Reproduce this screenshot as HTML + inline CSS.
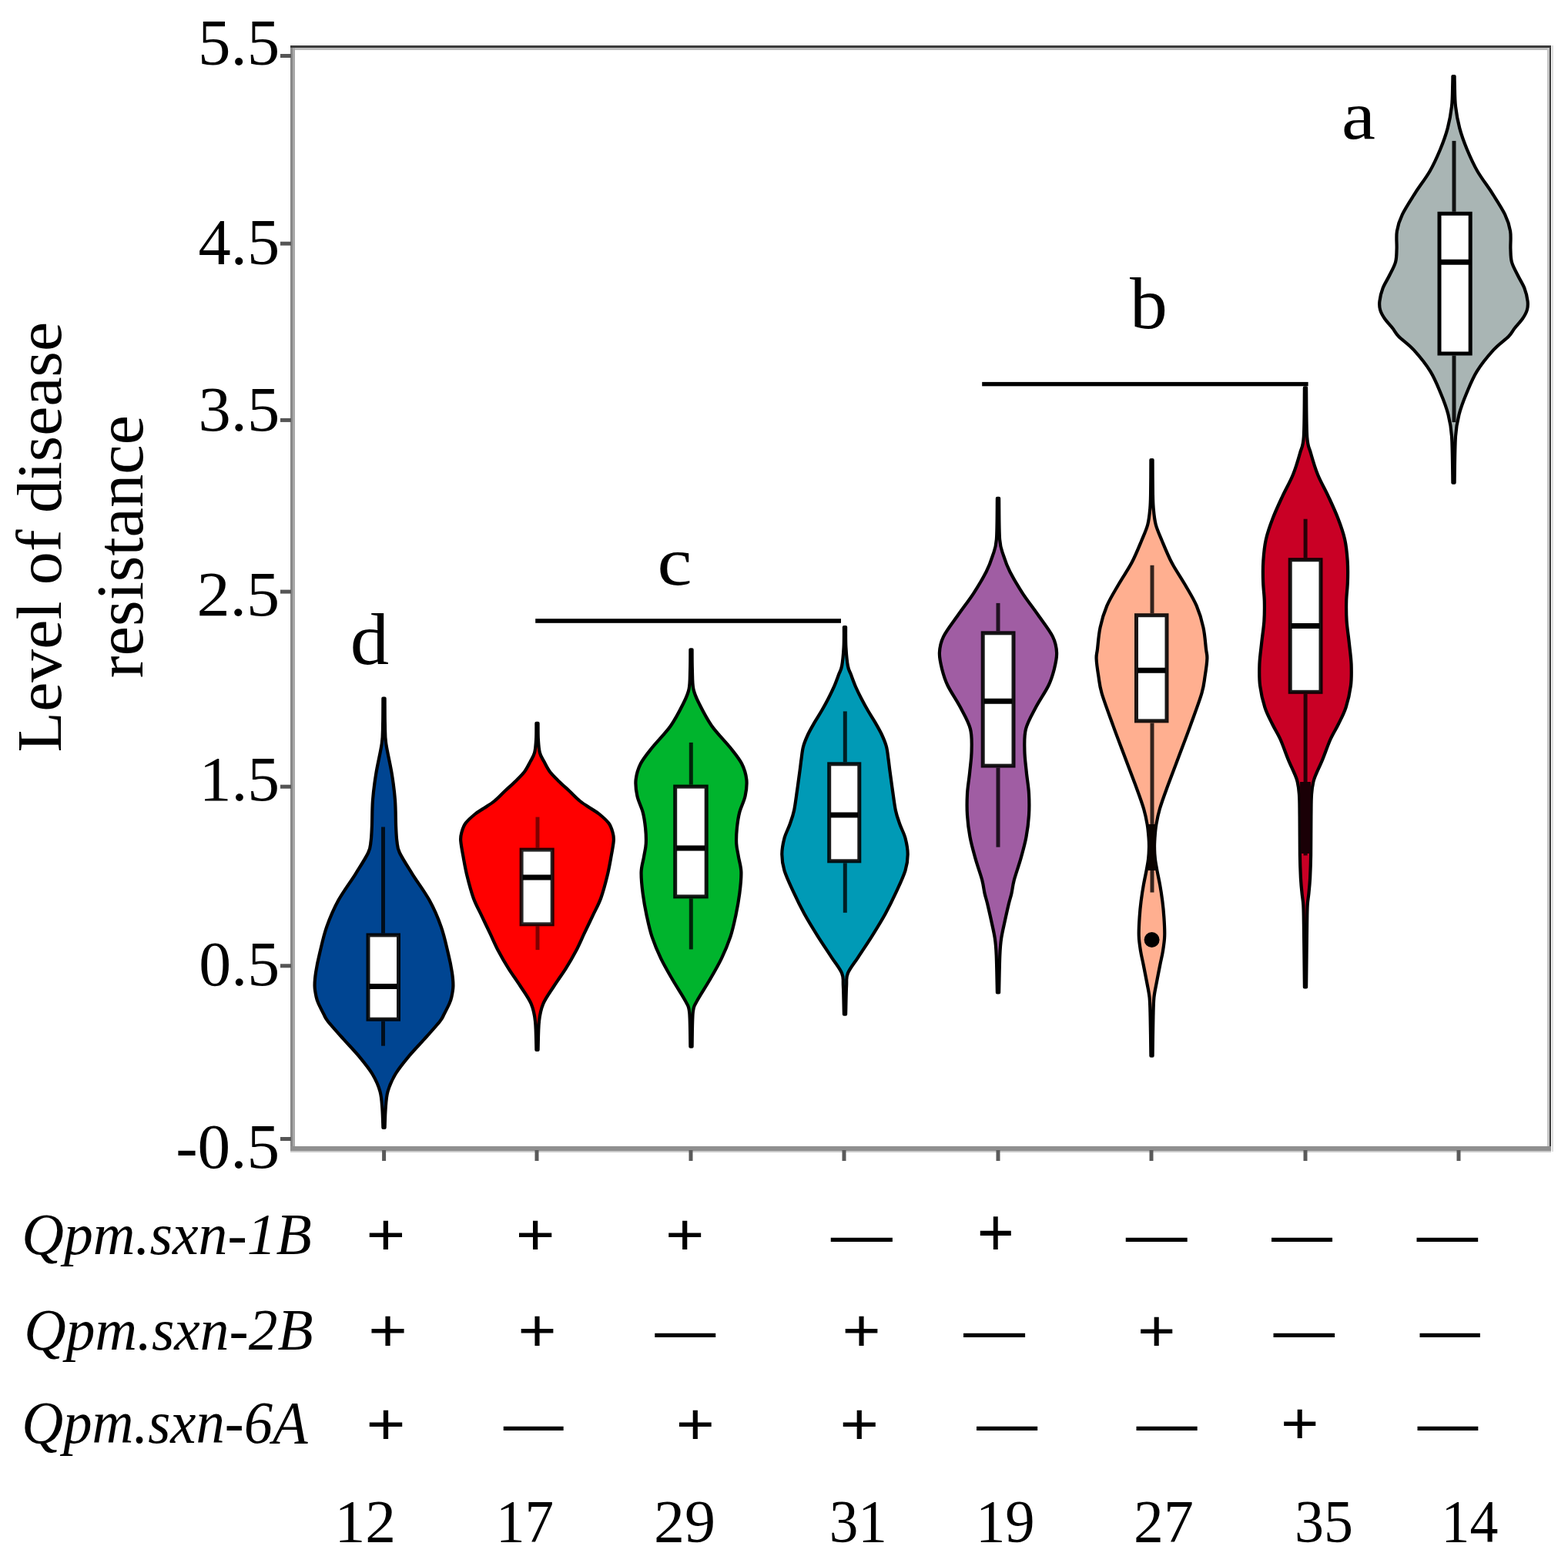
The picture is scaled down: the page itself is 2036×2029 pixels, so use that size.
<!DOCTYPE html>
<html><head><meta charset="utf-8"><title>Level of disease resistance</title>
<style>html,body{margin:0;padding:0;background:#fff;}svg{display:block;}</style>
</head><body>
<svg width="2036" height="2029" viewBox="0 0 2036 2029">
<rect width="2036" height="2029" fill="#fff"/>
<g shape-rendering="crispEdges">
<rect x="377" y="59" width="3" height="1436" fill="#888"/>
<rect x="380" y="62" width="3" height="1427" fill="#a8a8a8"/>
<rect x="377" y="59" width="1637" height="3" fill="#3c3c3c"/>
<rect x="383" y="62" width="1626" height="2.5" fill="#bbb"/>
<rect x="2012" y="59" width="2.2" height="1436" fill="#3c3c3c"/>
<rect x="2009" y="62" width="3" height="1426" fill="#c5c5c5"/>
<rect x="2014.5" y="59" width="2" height="1436" fill="#ddd"/>
<rect x="377" y="1488" width="1637" height="6" fill="#8f8f8f"/>
<rect x="377" y="1494" width="1637" height="2" fill="#ccc"/>
</g>
<rect x="364" y="70.0" width="14" height="5" fill="#555"/>
<rect x="364" y="313.7" width="14" height="5" fill="#555"/>
<rect x="364" y="542.9" width="14" height="5" fill="#555"/>
<rect x="364" y="765.6" width="14" height="5" fill="#555"/>
<rect x="364" y="1018.7" width="14" height="5" fill="#555"/>
<rect x="364" y="1251.3" width="14" height="5" fill="#555"/>
<rect x="364" y="1476.0" width="14" height="5" fill="#555"/>
<rect x="496.1" y="1493" width="5" height="14" fill="#5a5a5a"/>
<rect x="694.5" y="1493" width="5" height="14" fill="#5a5a5a"/>
<rect x="894.5" y="1493" width="5" height="14" fill="#5a5a5a"/>
<rect x="1093.5" y="1493" width="5" height="14" fill="#5a5a5a"/>
<rect x="1293.5" y="1493" width="5" height="14" fill="#5a5a5a"/>
<rect x="1492.5" y="1493" width="5" height="14" fill="#5a5a5a"/>
<rect x="1692.5" y="1493" width="5" height="14" fill="#5a5a5a"/>
<rect x="1891.5" y="1493" width="5" height="14" fill="#5a5a5a"/>
<path d="M499.6,906.6 C499.7,912.2 499.6,930.3 499.9,940.0 C500.2,949.7 499.7,954.3 501.2,965.0 C502.7,975.7 506.7,991.7 508.7,1004.0 C510.7,1016.3 512.1,1027.1 513.0,1038.6 C513.9,1050.1 513.7,1064.0 514.1,1072.9 C514.5,1081.8 514.6,1086.3 515.4,1092.0 C516.2,1097.7 515.6,1100.0 518.9,1107.0 C522.2,1114.0 528.8,1124.0 535.2,1134.3 C541.6,1144.6 551.2,1157.2 557.5,1168.6 C563.8,1180.0 568.7,1191.5 572.7,1202.9 C576.8,1214.3 579.4,1227.2 581.8,1237.0 C584.2,1246.8 585.8,1254.8 586.9,1262.0 C588.0,1269.2 588.5,1274.7 588.4,1280.0 C588.3,1285.3 587.2,1290.2 586.4,1294.0 C585.6,1297.8 585.1,1299.2 583.4,1303.0 C581.7,1306.8 578.4,1313.2 576.4,1317.0 C574.4,1320.8 575.5,1320.4 571.3,1325.7 C567.1,1331.0 558.1,1341.0 551.3,1348.6 C544.5,1356.2 537.0,1363.8 530.7,1371.4 C524.4,1379.0 518.0,1386.7 513.5,1394.3 C509.0,1401.9 505.6,1409.4 503.5,1417.0 C501.4,1424.6 501.2,1432.2 500.6,1440.0 C500.0,1447.8 499.8,1460.0 499.6,1464.0 L497.4,1464.0 C497.2,1460.0 497.0,1447.8 496.4,1440.0 C495.8,1432.2 495.6,1424.6 493.5,1417.0 C491.4,1409.4 488.0,1401.9 483.5,1394.3 C479.0,1386.7 472.6,1379.0 466.3,1371.4 C460.0,1363.8 452.5,1356.2 445.7,1348.6 C438.9,1341.0 429.9,1331.0 425.7,1325.7 C421.5,1320.4 422.6,1320.8 420.6,1317.0 C418.6,1313.2 415.3,1306.8 413.6,1303.0 C411.9,1299.2 411.4,1297.8 410.6,1294.0 C409.8,1290.2 408.7,1285.3 408.6,1280.0 C408.5,1274.7 409.0,1269.2 410.1,1262.0 C411.2,1254.8 412.8,1246.8 415.2,1237.0 C417.6,1227.2 420.2,1214.3 424.3,1202.9 C428.4,1191.5 433.2,1180.0 439.5,1168.6 C445.8,1157.2 455.4,1144.6 461.8,1134.3 C468.2,1124.0 474.8,1114.0 478.1,1107.0 C481.4,1100.0 480.8,1097.7 481.6,1092.0 C482.4,1086.3 482.5,1081.8 482.9,1072.9 C483.3,1064.0 483.1,1050.1 484.0,1038.6 C484.9,1027.1 486.3,1016.3 488.3,1004.0 C490.3,991.7 494.3,975.7 495.8,965.0 C497.3,954.3 496.8,949.7 497.1,940.0 C497.4,930.3 497.3,912.2 497.4,906.6 Z" fill="#004592" stroke="#000" stroke-width="4.2" stroke-linejoin="round"/>
<g stroke="#000" stroke-opacity="0.8" fill="none">
<line x1="497.5" y1="1073.4" x2="497.5" y2="1211.4" stroke-width="5"/>
<line x1="497.5" y1="1325.7" x2="497.5" y2="1357.7" stroke-width="5"/>
</g>
<rect x="478.00" y="1213.90" width="39.50" height="109.30" fill="#fff"/>
<rect x="478.00" y="1213.90" width="39.50" height="109.30" fill="none" stroke="#000" stroke-opacity="0.9" stroke-width="5.0"/>
<line x1="479.5" y1="1280.6" x2="516.0" y2="1280.6" stroke="#000" stroke-width="7"/>
<path d="M698.6,938.9 C698.6,942.4 698.5,953.6 698.9,960.0 C699.3,966.4 699.6,972.3 700.9,977.1 C702.1,981.9 704.2,984.5 706.4,988.6 C708.6,992.8 710.8,997.6 714.1,1002.0 C717.5,1006.4 722.3,1010.8 726.5,1015.0 C730.7,1019.2 735.0,1022.8 739.5,1027.0 C744.0,1031.2 748.7,1036.3 753.2,1040.0 C757.7,1043.7 762.2,1046.2 766.4,1049.0 C770.6,1051.8 774.4,1053.7 778.4,1057.0 C782.4,1060.3 787.6,1064.8 790.4,1068.6 C793.2,1072.4 794.3,1076.2 795.4,1080.0 C796.5,1083.8 797.2,1085.7 796.8,1091.4 C796.4,1097.1 794.5,1106.7 793.1,1114.3 C791.7,1121.9 790.6,1128.5 788.5,1137.1 C786.4,1145.7 783.4,1157.1 780.3,1165.7 C777.2,1174.3 773.3,1181.0 769.7,1188.6 C766.1,1196.2 762.4,1203.8 758.8,1211.4 C755.2,1219.0 752.0,1226.7 748.0,1234.3 C744.0,1241.9 739.6,1249.5 734.8,1257.1 C730.0,1264.7 724.3,1272.4 719.4,1280.0 C714.5,1287.6 708.6,1295.3 705.4,1302.9 C702.2,1310.5 701.1,1315.7 700.0,1325.7 C698.9,1335.7 698.8,1356.8 698.6,1363.0 L696.4,1363.0 C696.2,1356.8 696.1,1335.7 695.0,1325.7 C693.9,1315.7 692.8,1310.5 689.6,1302.9 C686.4,1295.3 680.5,1287.6 675.6,1280.0 C670.7,1272.4 665.0,1264.7 660.2,1257.1 C655.4,1249.5 651.0,1241.9 647.0,1234.3 C643.0,1226.7 639.8,1219.0 636.2,1211.4 C632.6,1203.8 628.9,1196.2 625.3,1188.6 C621.7,1181.0 617.8,1174.3 614.7,1165.7 C611.6,1157.1 608.6,1145.7 606.5,1137.1 C604.4,1128.5 603.3,1121.9 601.9,1114.3 C600.5,1106.7 598.6,1097.1 598.2,1091.4 C597.8,1085.7 598.5,1083.8 599.6,1080.0 C600.7,1076.2 601.8,1072.4 604.6,1068.6 C607.4,1064.8 612.6,1060.3 616.6,1057.0 C620.6,1053.7 624.4,1051.8 628.6,1049.0 C632.8,1046.2 637.3,1043.7 641.8,1040.0 C646.3,1036.3 651.0,1031.2 655.5,1027.0 C660.0,1022.8 664.3,1019.2 668.5,1015.0 C672.7,1010.8 677.5,1006.4 680.9,1002.0 C684.2,997.6 686.4,992.8 688.6,988.6 C690.8,984.5 692.9,981.9 694.1,977.1 C695.4,972.3 695.7,966.4 696.1,960.0 C696.5,953.6 696.4,942.4 696.4,938.9 Z" fill="#ff0000" stroke="#000" stroke-width="4.2" stroke-linejoin="round"/>
<g stroke="#000" stroke-opacity="0.5" fill="none">
<line x1="698" y1="1060.6" x2="698" y2="1100.6" stroke-width="5"/>
<line x1="698" y1="1202.3" x2="698" y2="1233.1" stroke-width="5"/>
</g>
<rect x="677.10" y="1103.10" width="40.10" height="96.70" fill="#fff"/>
<rect x="677.10" y="1103.10" width="40.10" height="96.70" fill="none" stroke="#000" stroke-opacity="0.85" stroke-width="5.0"/>
<line x1="678.6" y1="1138.9" x2="715.7" y2="1138.9" stroke="#000" stroke-width="7"/>
<path d="M898.6,843.3 C898.6,847.8 898.6,861.5 898.9,870.0 C899.2,878.5 898.9,887.3 900.4,894.5 C901.9,901.7 903.8,905.2 907.7,913.2 C911.7,921.2 917.4,932.7 924.1,942.2 C930.8,951.7 941.5,962.1 948.0,970.3 C954.5,978.5 959.5,984.3 963.1,991.3 C966.7,998.3 968.6,1005.3 969.4,1012.3 C970.1,1019.3 969.1,1026.4 967.6,1033.4 C966.1,1040.4 962.1,1047.5 960.3,1054.4 C958.5,1061.3 957.6,1068.2 956.9,1075.0 C956.2,1081.8 955.9,1088.8 956.2,1095.0 C956.5,1101.2 957.9,1105.8 958.9,1112.0 C959.9,1118.2 962.2,1124.1 962.4,1132.1 C962.6,1140.1 961.5,1150.8 960.3,1160.1 C959.1,1169.4 957.4,1178.8 955.4,1188.2 C953.4,1197.6 951.5,1206.9 948.4,1216.2 C945.3,1225.5 941.3,1235.0 936.8,1244.3 C932.3,1253.6 926.8,1262.9 921.4,1272.3 C916.0,1281.7 908.1,1293.4 904.5,1300.4 C900.9,1307.4 900.8,1304.7 899.8,1314.4 C898.8,1324.1 898.8,1351.2 898.6,1358.6 L896.4,1358.6 C896.2,1351.2 896.2,1324.1 895.2,1314.4 C894.2,1304.7 894.1,1307.4 890.5,1300.4 C886.9,1293.4 879.0,1281.7 873.6,1272.3 C868.2,1262.9 862.7,1253.6 858.2,1244.3 C853.7,1235.0 849.7,1225.5 846.6,1216.2 C843.5,1206.9 841.6,1197.6 839.6,1188.2 C837.6,1178.8 835.9,1169.4 834.7,1160.1 C833.5,1150.8 832.4,1140.1 832.6,1132.1 C832.8,1124.1 835.1,1118.2 836.1,1112.0 C837.1,1105.8 838.5,1101.2 838.8,1095.0 C839.1,1088.8 838.8,1081.8 838.1,1075.0 C837.4,1068.2 836.5,1061.3 834.7,1054.4 C832.9,1047.5 828.9,1040.4 827.4,1033.4 C825.9,1026.4 824.9,1019.3 825.6,1012.3 C826.4,1005.3 828.3,998.3 831.9,991.3 C835.5,984.3 840.5,978.5 847.0,970.3 C853.5,962.1 864.2,951.7 870.9,942.2 C877.6,932.7 883.3,921.2 887.3,913.2 C891.2,905.2 893.1,901.7 894.6,894.5 C896.1,887.3 895.8,878.5 896.1,870.0 C896.4,861.5 896.4,847.8 896.4,843.3 Z" fill="#00b42d" stroke="#000" stroke-width="4.2" stroke-linejoin="round"/>
<g stroke="#000" stroke-opacity="0.8" fill="none">
<line x1="897.3" y1="963.9" x2="897.3" y2="1018.6" stroke-width="5"/>
<line x1="897.3" y1="1166.4" x2="897.3" y2="1232.4" stroke-width="5"/>
</g>
<rect x="876.70" y="1021.10" width="40.50" height="142.80" fill="#fff"/>
<rect x="876.70" y="1021.10" width="40.50" height="142.80" fill="none" stroke="#000" stroke-opacity="0.9" stroke-width="5.0"/>
<line x1="878.2" y1="1100.9" x2="915.7" y2="1100.9" stroke="#000" stroke-width="7"/>
<path d="M1098.1,814.0 C1098.1,818.3 1097.9,831.6 1098.4,840.0 C1098.9,848.4 1099.8,858.6 1100.9,864.5 C1102.0,870.4 1103.2,871.1 1104.9,875.6 C1106.6,880.1 1108.7,886.0 1110.9,891.2 C1113.2,896.4 1115.7,901.5 1118.4,906.7 C1121.1,911.9 1123.9,917.1 1126.9,922.3 C1129.9,927.5 1133.4,932.7 1136.4,937.9 C1139.4,943.1 1142.5,948.3 1144.9,953.5 C1147.3,958.7 1149.5,963.8 1150.9,969.0 C1152.3,974.2 1152.7,979.4 1153.4,984.6 C1154.2,989.8 1154.5,993.6 1155.4,1000.2 C1156.3,1006.8 1157.5,1015.8 1158.7,1024.4 C1160.0,1033.0 1161.3,1044.4 1162.9,1052.0 C1164.5,1059.6 1166.3,1064.0 1168.4,1070.0 C1170.5,1076.0 1173.8,1081.5 1175.5,1088.0 C1177.2,1094.5 1178.7,1102.1 1178.7,1109.1 C1178.7,1116.1 1178.0,1121.9 1175.5,1130.1 C1173.0,1138.3 1167.9,1148.8 1163.6,1158.2 C1159.3,1167.6 1154.7,1176.9 1149.6,1186.2 C1144.5,1195.5 1138.6,1205.0 1132.8,1214.3 C1127.0,1223.6 1119.8,1234.1 1114.5,1242.3 C1109.2,1250.5 1103.5,1257.1 1100.9,1263.4 C1098.3,1269.7 1099.6,1271.1 1099.1,1280.0 C1098.6,1288.9 1098.3,1310.6 1098.1,1316.7 L1095.9,1316.7 C1095.7,1310.6 1095.4,1288.9 1094.9,1280.0 C1094.4,1271.1 1095.7,1269.7 1093.1,1263.4 C1090.5,1257.1 1084.8,1250.5 1079.5,1242.3 C1074.2,1234.1 1067.0,1223.6 1061.2,1214.3 C1055.4,1205.0 1049.5,1195.5 1044.4,1186.2 C1039.3,1176.9 1034.7,1167.6 1030.4,1158.2 C1026.1,1148.8 1021.0,1138.3 1018.5,1130.1 C1016.0,1121.9 1015.3,1116.1 1015.3,1109.1 C1015.3,1102.1 1016.8,1094.5 1018.5,1088.0 C1020.2,1081.5 1023.5,1076.0 1025.6,1070.0 C1027.7,1064.0 1029.5,1059.6 1031.1,1052.0 C1032.7,1044.4 1034.0,1033.0 1035.3,1024.4 C1036.5,1015.8 1037.7,1006.8 1038.6,1000.2 C1039.5,993.6 1039.8,989.8 1040.6,984.6 C1041.3,979.4 1041.7,974.2 1043.1,969.0 C1044.5,963.8 1046.7,958.7 1049.1,953.5 C1051.5,948.3 1054.6,943.1 1057.6,937.9 C1060.6,932.7 1064.1,927.5 1067.1,922.3 C1070.1,917.1 1072.9,911.9 1075.6,906.7 C1078.3,901.5 1080.8,896.4 1083.1,891.2 C1085.3,886.0 1087.4,880.1 1089.1,875.6 C1090.8,871.1 1092.0,870.4 1093.1,864.5 C1094.2,858.6 1095.1,848.4 1095.6,840.0 C1096.1,831.6 1095.9,818.3 1095.9,814.0 Z" fill="#009ab6" stroke="#000" stroke-width="4.2" stroke-linejoin="round"/>
<g stroke="#000" stroke-opacity="0.8" fill="none">
<line x1="1097.3" y1="923.4" x2="1097.3" y2="989.3" stroke-width="5"/>
<line x1="1097.3" y1="1120.3" x2="1097.3" y2="1184.8" stroke-width="5"/>
</g>
<rect x="1076.70" y="991.80" width="39.10" height="126.00" fill="#fff"/>
<rect x="1076.70" y="991.80" width="39.10" height="126.00" fill="none" stroke="#000" stroke-opacity="0.9" stroke-width="5.0"/>
<line x1="1078.2" y1="1058" x2="1114.3" y2="1058" stroke="#000" stroke-width="7"/>
<path d="M1297.1,646.8 C1297.3,655.7 1297.1,687.7 1298.1,700.1 C1299.1,712.5 1300.8,714.2 1303.0,721.2 C1305.2,728.2 1307.2,734.0 1311.4,742.2 C1315.6,750.4 1321.8,760.9 1327.9,770.3 C1334.0,779.6 1341.4,788.9 1347.9,798.3 C1354.4,807.6 1362.9,818.2 1366.9,826.4 C1370.9,834.6 1371.8,840.4 1372.1,847.4 C1372.4,854.4 1370.7,861.3 1368.9,868.4 C1367.1,875.5 1365.4,881.7 1361.4,890.0 C1357.4,898.3 1350.0,908.6 1345.1,918.0 C1340.2,927.4 1334.5,936.7 1332.1,946.1 C1329.6,955.5 1330.3,964.9 1330.4,974.2 C1330.5,983.6 1331.9,992.9 1332.8,1002.2 C1333.7,1011.6 1335.5,1020.9 1336.0,1030.3 C1336.5,1039.6 1336.6,1048.9 1336.0,1058.3 C1335.4,1067.7 1334.2,1077.1 1332.5,1086.4 C1330.8,1095.8 1328.1,1105.1 1325.5,1114.4 C1322.9,1123.7 1318.9,1134.4 1316.9,1142.0 C1314.9,1149.6 1314.6,1154.8 1313.4,1160.0 C1312.2,1165.2 1311.4,1167.0 1309.9,1173.0 C1308.5,1179.0 1306.3,1188.5 1304.7,1196.0 C1303.1,1203.5 1301.3,1210.7 1300.2,1218.0 C1299.1,1225.3 1298.8,1228.3 1298.3,1240.0 C1297.8,1251.7 1297.3,1280.3 1297.1,1288.4 L1294.9,1288.4 C1294.7,1280.3 1294.2,1251.7 1293.7,1240.0 C1293.2,1228.3 1292.9,1225.3 1291.8,1218.0 C1290.7,1210.7 1288.9,1203.5 1287.3,1196.0 C1285.7,1188.5 1283.5,1179.0 1282.1,1173.0 C1280.6,1167.0 1279.8,1165.2 1278.6,1160.0 C1277.4,1154.8 1277.1,1149.6 1275.1,1142.0 C1273.1,1134.4 1269.1,1123.7 1266.5,1114.4 C1263.9,1105.1 1261.2,1095.8 1259.5,1086.4 C1257.8,1077.1 1256.6,1067.7 1256.0,1058.3 C1255.4,1048.9 1255.5,1039.6 1256.0,1030.3 C1256.5,1020.9 1258.3,1011.6 1259.2,1002.2 C1260.1,992.9 1261.5,983.6 1261.6,974.2 C1261.7,964.9 1262.4,955.5 1259.9,946.1 C1257.5,936.7 1251.8,927.4 1246.9,918.0 C1242.0,908.6 1234.6,898.3 1230.6,890.0 C1226.6,881.7 1224.9,875.5 1223.1,868.4 C1221.3,861.3 1219.6,854.4 1219.9,847.4 C1220.2,840.4 1221.1,834.6 1225.1,826.4 C1229.1,818.2 1237.6,807.6 1244.1,798.3 C1250.6,788.9 1258.0,779.6 1264.1,770.3 C1270.2,760.9 1276.4,750.4 1280.6,742.2 C1284.8,734.0 1286.8,728.2 1289.0,721.2 C1291.2,714.2 1292.9,712.5 1293.9,700.1 C1294.9,687.7 1294.7,655.7 1294.9,646.8 Z" fill="#a05da3" stroke="#000" stroke-width="4.2" stroke-linejoin="round"/>
<g stroke="#000" stroke-opacity="0.8" fill="none">
<line x1="1296" y1="782.9" x2="1296" y2="819.3" stroke-width="5"/>
<line x1="1296" y1="996.6" x2="1296" y2="1099.7" stroke-width="5"/>
</g>
<rect x="1276.20" y="821.80" width="39.80" height="172.30" fill="#fff"/>
<rect x="1276.20" y="821.80" width="39.80" height="172.30" fill="none" stroke="#000" stroke-opacity="0.9" stroke-width="5.0"/>
<line x1="1277.7" y1="910.3" x2="1314.5" y2="910.3" stroke="#000" stroke-width="7"/>
<path d="M1496.6,597.0 C1496.6,604.2 1496.7,629.5 1496.9,640.0 C1497.1,650.5 1497.1,653.1 1497.7,660.0 C1498.3,666.9 1498.9,674.2 1500.8,681.2 C1502.7,688.2 1505.5,694.0 1508.9,702.2 C1512.3,710.4 1516.5,720.9 1521.4,730.3 C1526.3,739.6 1532.9,748.9 1538.3,758.3 C1543.7,767.6 1549.7,777.0 1553.7,786.4 C1557.7,795.8 1560.4,805.0 1562.4,814.4 C1564.5,823.8 1565.2,835.7 1566.0,842.5 C1566.8,849.3 1567.6,849.1 1567.4,855.0 C1567.2,860.9 1565.8,870.5 1564.6,878.0 C1563.4,885.5 1563.5,889.4 1560.4,900.0 C1557.3,910.6 1550.8,927.7 1545.8,941.6 C1540.8,955.5 1535.4,969.4 1530.2,983.2 C1525.0,997.1 1518.6,1013.6 1514.6,1024.7 C1510.5,1035.8 1508.1,1042.5 1505.9,1050.0 C1503.7,1057.5 1502.5,1063.7 1501.4,1070.0 C1500.3,1076.3 1499.8,1083.0 1499.4,1088.0 C1499.0,1093.0 1498.9,1095.5 1499.0,1100.0 C1499.1,1104.5 1499.3,1110.0 1499.9,1115.0 C1500.5,1120.0 1501.4,1124.3 1502.4,1130.0 C1503.5,1135.7 1505.0,1142.3 1506.2,1149.0 C1507.4,1155.7 1508.5,1163.0 1509.4,1170.0 C1510.3,1177.0 1510.9,1183.5 1511.4,1191.0 C1511.9,1198.5 1512.5,1207.7 1512.2,1215.0 C1512.0,1222.3 1510.9,1228.7 1509.9,1235.0 C1508.9,1241.3 1507.5,1246.3 1506.2,1253.0 C1504.9,1259.7 1503.2,1268.0 1501.9,1275.0 C1500.6,1282.0 1499.2,1287.5 1498.4,1295.0 C1497.7,1302.5 1497.7,1307.4 1497.4,1320.0 C1497.1,1332.6 1496.7,1362.2 1496.6,1370.6 L1494.4,1370.6 C1494.3,1362.2 1493.9,1332.6 1493.6,1320.0 C1493.3,1307.4 1493.3,1302.5 1492.6,1295.0 C1491.8,1287.5 1490.4,1282.0 1489.1,1275.0 C1487.8,1268.0 1486.1,1259.7 1484.8,1253.0 C1483.5,1246.3 1482.1,1241.3 1481.1,1235.0 C1480.1,1228.7 1479.0,1222.3 1478.8,1215.0 C1478.5,1207.7 1479.1,1198.5 1479.6,1191.0 C1480.1,1183.5 1480.7,1177.0 1481.6,1170.0 C1482.5,1163.0 1483.6,1155.7 1484.8,1149.0 C1486.0,1142.3 1487.5,1135.7 1488.6,1130.0 C1489.6,1124.3 1490.5,1120.0 1491.1,1115.0 C1491.7,1110.0 1491.9,1104.5 1492.0,1100.0 C1492.1,1095.5 1492.0,1093.0 1491.6,1088.0 C1491.2,1083.0 1490.7,1076.3 1489.6,1070.0 C1488.5,1063.7 1487.3,1057.5 1485.1,1050.0 C1482.9,1042.5 1480.5,1035.8 1476.4,1024.7 C1472.4,1013.6 1466.0,997.1 1460.8,983.2 C1455.6,969.4 1450.2,955.5 1445.2,941.6 C1440.2,927.7 1433.7,910.6 1430.6,900.0 C1427.5,889.4 1427.6,885.5 1426.4,878.0 C1425.2,870.5 1423.8,860.9 1423.6,855.0 C1423.4,849.1 1424.2,849.3 1425.0,842.5 C1425.8,835.7 1426.5,823.8 1428.6,814.4 C1430.6,805.0 1433.3,795.8 1437.3,786.4 C1441.3,777.0 1447.3,767.6 1452.7,758.3 C1458.1,748.9 1464.7,739.6 1469.6,730.3 C1474.5,720.9 1478.7,710.4 1482.1,702.2 C1485.5,694.0 1488.3,688.2 1490.2,681.2 C1492.1,674.2 1492.7,666.9 1493.3,660.0 C1493.9,653.1 1493.9,650.5 1494.1,640.0 C1494.3,629.5 1494.4,604.2 1494.4,597.0 Z" fill="#ffaf90" stroke="#000" stroke-width="4.2" stroke-linejoin="round"/>
<g stroke="#000" stroke-opacity="0.8" fill="none">
<line x1="1496" y1="733.8" x2="1496" y2="796.2" stroke-width="5"/>
<line x1="1496" y1="938.4" x2="1496" y2="1158.5" stroke-width="5"/>
</g>
<rect x="1475.50" y="798.70" width="39.50" height="137.20" fill="#fff"/>
<rect x="1475.50" y="798.70" width="39.50" height="137.20" fill="none" stroke="#000" stroke-opacity="0.9" stroke-width="5.0"/>
<line x1="1477.0" y1="870.3" x2="1513.5" y2="870.3" stroke="#000" stroke-width="7"/>
<path d="M1696.1,503.3 C1696.3,513.9 1696.2,553.0 1697.2,567.1 C1698.2,581.2 1699.7,580.0 1702.0,588.2 C1704.3,596.4 1707.3,606.9 1711.1,616.2 C1714.9,625.6 1720.5,634.9 1724.8,644.3 C1729.1,653.6 1733.5,662.9 1737.1,672.3 C1740.7,681.6 1744.1,691.0 1746.2,700.4 C1748.3,709.8 1749.1,719.3 1749.7,728.4 C1750.3,737.5 1750.2,746.4 1749.9,755.0 C1749.7,763.6 1748.4,771.5 1748.2,780.0 C1748.0,788.5 1748.0,797.1 1748.6,806.1 C1749.2,815.1 1750.8,824.9 1751.8,834.2 C1752.8,843.6 1754.2,852.9 1754.6,862.2 C1754.9,871.6 1755.1,880.9 1753.9,890.3 C1752.7,899.6 1750.3,910.0 1747.6,918.3 C1744.9,926.6 1741.3,933.0 1737.9,940.0 C1734.5,947.0 1730.8,952.3 1727.4,960.0 C1724.0,967.7 1720.8,977.3 1717.3,986.0 C1713.8,994.7 1708.6,1004.3 1706.2,1012.0 C1703.8,1019.7 1703.6,1024.0 1703.0,1032.0 C1702.4,1040.0 1702.6,1047.0 1702.4,1060.0 C1702.2,1073.0 1702.3,1096.7 1702.1,1110.0 C1701.9,1123.3 1701.5,1131.7 1701.1,1140.0 C1700.6,1148.3 1700.0,1154.2 1699.4,1160.0 C1698.8,1165.8 1698.1,1168.3 1697.7,1175.0 C1697.3,1181.7 1697.4,1182.3 1697.1,1200.0 C1696.8,1217.7 1696.3,1267.8 1696.1,1281.4 L1693.9,1281.4 C1693.7,1267.8 1693.2,1217.7 1692.9,1200.0 C1692.6,1182.3 1692.7,1181.7 1692.3,1175.0 C1691.9,1168.3 1691.2,1165.8 1690.6,1160.0 C1690.0,1154.2 1689.4,1148.3 1688.9,1140.0 C1688.5,1131.7 1688.1,1123.3 1687.9,1110.0 C1687.7,1096.7 1687.8,1073.0 1687.6,1060.0 C1687.4,1047.0 1687.6,1040.0 1687.0,1032.0 C1686.4,1024.0 1686.2,1019.7 1683.8,1012.0 C1681.4,1004.3 1676.2,994.7 1672.7,986.0 C1669.2,977.3 1666.0,967.7 1662.6,960.0 C1659.2,952.3 1655.5,947.0 1652.1,940.0 C1648.7,933.0 1645.1,926.6 1642.4,918.3 C1639.7,910.0 1637.3,899.6 1636.1,890.3 C1634.9,880.9 1635.1,871.6 1635.4,862.2 C1635.8,852.9 1637.2,843.6 1638.2,834.2 C1639.2,824.9 1640.8,815.1 1641.4,806.1 C1642.0,797.1 1642.0,788.5 1641.8,780.0 C1641.6,771.5 1640.3,763.6 1640.1,755.0 C1639.8,746.4 1639.7,737.5 1640.3,728.4 C1640.9,719.3 1641.7,709.8 1643.8,700.4 C1645.9,691.0 1649.3,681.6 1652.9,672.3 C1656.5,662.9 1660.9,653.6 1665.2,644.3 C1669.5,634.9 1675.1,625.6 1678.9,616.2 C1682.7,606.9 1685.7,596.4 1688.0,588.2 C1690.3,580.0 1691.8,581.2 1692.8,567.1 C1693.8,553.0 1693.7,513.9 1693.9,503.3 Z" fill="#c90025" stroke="#000" stroke-width="4.2" stroke-linejoin="round"/>
<g stroke="#000" stroke-opacity="0.8" fill="none">
<line x1="1695.1" y1="673.7" x2="1695.1" y2="724.2" stroke-width="5"/>
<line x1="1695.1" y1="900.8" x2="1695.1" y2="1110.4" stroke-width="5"/>
</g>
<rect x="1675.20" y="726.70" width="39.80" height="171.60" fill="#fff"/>
<rect x="1675.20" y="726.70" width="39.80" height="171.60" fill="none" stroke="#000" stroke-opacity="0.9" stroke-width="5.0"/>
<line x1="1676.7" y1="812.4" x2="1713.5" y2="812.4" stroke="#000" stroke-width="7"/>
<path d="M1888.6,99.0 C1888.6,100.8 1888.6,103.5 1888.8,110.0 C1889.0,116.5 1888.9,128.7 1890.0,138.0 C1891.1,147.3 1892.7,156.7 1895.2,166.1 C1897.7,175.5 1901.1,184.8 1905.0,194.2 C1908.9,203.5 1913.0,212.8 1918.4,222.2 C1923.8,231.5 1931.3,241.0 1937.3,250.3 C1943.2,259.7 1950.1,270.0 1954.1,278.3 C1958.1,286.6 1959.9,292.6 1961.1,300.0 C1962.3,307.4 1961.1,316.3 1961.4,323.0 C1961.7,329.7 1961.4,334.3 1962.9,340.0 C1964.4,345.7 1967.8,351.3 1970.6,357.0 C1973.3,362.7 1977.2,368.3 1979.4,374.0 C1981.6,379.7 1983.0,386.2 1983.6,391.0 C1984.2,395.8 1983.9,398.7 1982.8,402.5 C1981.7,406.3 1979.5,410.1 1976.8,414.0 C1974.1,417.9 1969.8,422.2 1966.8,426.0 C1963.8,429.8 1963.5,432.0 1958.9,436.7 C1954.3,441.4 1946.3,446.6 1939.4,454.2 C1932.5,461.8 1923.5,472.8 1917.7,482.2 C1911.9,491.6 1908.3,501.0 1904.4,510.3 C1900.5,519.6 1896.9,528.9 1894.5,538.3 C1892.1,547.6 1891.0,551.7 1890.0,566.4 C1889.0,581.1 1888.8,616.7 1888.6,626.7 L1886.4,626.7 C1886.2,616.7 1886.0,581.1 1885.0,566.4 C1884.0,551.7 1882.9,547.6 1880.5,538.3 C1878.1,528.9 1874.5,519.6 1870.6,510.3 C1866.7,501.0 1863.1,491.6 1857.3,482.2 C1851.5,472.8 1842.5,461.8 1835.6,454.2 C1828.7,446.6 1820.7,441.4 1816.1,436.7 C1811.5,432.0 1811.2,429.8 1808.2,426.0 C1805.2,422.2 1800.9,417.9 1798.2,414.0 C1795.5,410.1 1793.3,406.3 1792.2,402.5 C1791.1,398.7 1790.8,395.8 1791.4,391.0 C1792.0,386.2 1793.4,379.7 1795.6,374.0 C1797.8,368.3 1801.7,362.7 1804.4,357.0 C1807.2,351.3 1810.6,345.7 1812.1,340.0 C1813.6,334.3 1813.3,329.7 1813.6,323.0 C1813.9,316.3 1812.7,307.4 1813.9,300.0 C1815.1,292.6 1816.9,286.6 1820.9,278.3 C1824.9,270.0 1831.8,259.7 1837.7,250.3 C1843.7,241.0 1851.2,231.5 1856.6,222.2 C1862.0,212.8 1866.1,203.5 1870.0,194.2 C1873.9,184.8 1877.3,175.5 1879.8,166.1 C1882.3,156.7 1883.9,147.3 1885.0,138.0 C1886.1,128.7 1886.0,116.5 1886.2,110.0 C1886.4,103.5 1886.4,100.8 1886.4,99.0 Z" fill="#a9b5b4" stroke="#000" stroke-width="4.2" stroke-linejoin="round"/>
<g stroke="#000" stroke-opacity="0.9" fill="none">
<line x1="1888" y1="182.9" x2="1888" y2="274.8" stroke-width="5"/>
<line x1="1888" y1="461.5" x2="1888" y2="548.1" stroke-width="5"/>
</g>
<rect x="1869.00" y="277.30" width="40.20" height="181.70" fill="#fff"/>
<rect x="1869.00" y="277.30" width="40.20" height="181.70" fill="none" stroke="#000" stroke-opacity="1" stroke-width="5.0"/>
<line x1="1870.5" y1="340.3" x2="1907.7" y2="340.3" stroke="#000" stroke-width="7"/>
<path d="M1688,1015 L1702,1015 L1701,1108 L1689,1108 Z" fill="#1a0006"/>
<path d="M1490.3,1070 L1501.3,1070 L1500.8,1130 L1490.8,1130 Z" fill="#0a0300"/>
<circle cx="1495.6" cy="1220" r="10" fill="#000"/>
<rect x="1275.2" y="495.9" width="423.4" height="5.4" fill="#000"/>
<rect x="695.2" y="803.2" width="396.8" height="5.6" fill="#000"/>
<text transform="translate(1742.04,179.51) scale(1.1127,1.0000)" font-family="'Liberation Serif',serif" font-size="88.96">a</text>
<text transform="translate(1467.00,425.54) scale(1.0162,1.0000)" font-family="'Liberation Serif',serif" font-size="96.17">b</text>
<text transform="translate(853.40,759.11) scale(1.1364,1.0000)" font-family="'Liberation Serif',serif" font-size="89.17">c</text>
<text transform="translate(454.67,861.55) scale(1.0557,1.0000)" font-family="'Liberation Serif',serif" font-size="95.46">d</text>
<text transform="translate(256.91,84.24) scale(1.0101,1.0000)" font-family="'Liberation Serif',serif" font-size="84.18">5.5</text>
<text transform="translate(257.61,343.44) scale(1.0070,1.0000)" font-family="'Liberation Serif',serif" font-size="83.87">4.5</text>
<text transform="translate(257.48,559.16) scale(1.0248,1.0000)" font-family="'Liberation Serif',serif" font-size="82.51">3.5</text>
<text transform="translate(255.42,798.96) scale(1.0455,1.0000)" font-family="'Liberation Serif',serif" font-size="82.51">2.5</text>
<text x="258.69" y="1039.15" font-family="'Liberation Serif',serif" font-size="83.56">1.5</text>
<text transform="translate(258.36,1278.97) scale(1.0199,1.0000)" font-family="'Liberation Serif',serif" font-size="82.21">0.5</text>
<text transform="translate(228.20,1516.07) scale(1.0378,1.0000)" font-family="'Liberation Serif',serif" font-size="82.21">-0.5</text>
<text transform="translate(79.47,976.38) rotate(-90) scale(1.0368,1)" font-family="'Liberation Serif',serif" font-size="82.94">Level of disease</text>
<text transform="translate(184.84,880.23) rotate(-90) scale(1.0054,1)" font-family="'Liberation Serif',serif" font-size="86.10">resistance</text>
<text x="28.24" y="1627.80" font-family="'Liberation Serif',serif" font-style="italic" font-size="75.77">Qpm.sxn-1B</text>
<text transform="translate(31.35,1751.66) scale(0.9814,1.0000)" font-family="'Liberation Serif',serif" font-style="italic" font-size="76.91">Qpm.sxn-2B</text>
<text transform="translate(28.29,1872.96) scale(0.9657,1.0000)" font-family="'Liberation Serif',serif" font-style="italic" font-size="77.37">Qpm.sxn-6A</text>
<text transform="translate(434.43,2001.30) scale(1.0128,1.0000)" font-family="'Liberation Serif',serif" font-size="78.64">12</text>
<text transform="translate(643.93,2001.30) scale(0.9517,1.0000)" font-family="'Liberation Serif',serif" font-size="78.94">17</text>
<text transform="translate(849.00,2000.53) scale(1.0340,1.0000)" font-family="'Liberation Serif',serif" font-size="77.47">29</text>
<text transform="translate(1076.73,2000.53) scale(0.9704,1.0000)" font-family="'Liberation Serif',serif" font-size="77.47">31</text>
<text transform="translate(1266.88,2000.53) scale(0.9912,1.0000)" font-family="'Liberation Serif',serif" font-size="77.47">19</text>
<text transform="translate(1472.10,2001.30) scale(0.9884,1.0000)" font-family="'Liberation Serif',serif" font-size="78.64">27</text>
<text transform="translate(1680.99,2000.53) scale(0.9803,1.0000)" font-family="'Liberation Serif',serif" font-size="77.47">35</text>
<text transform="translate(1871.54,2001.30) scale(0.9358,1.0000)" font-family="'Liberation Serif',serif" font-size="78.94">14</text>
<text transform="translate(475.55,1629.11) scale(1.1523,1.0000)" font-family="'Liberation Sans',sans-serif" font-size="75.51">+</text>
<text transform="translate(669.65,1629.11) scale(1.1523,1.0000)" font-family="'Liberation Sans',sans-serif" font-size="75.51">+</text>
<text transform="translate(864.08,1629.11) scale(1.1441,1.0000)" font-family="'Liberation Sans',sans-serif" font-size="75.51">+</text>
<text transform="translate(1078.80,1628.95) scale(1.0411,1.0000)" font-family="'Liberation Sans',sans-serif" font-size="77.04">—</text>
<text transform="translate(1268.78,1630.33) scale(0.9464,1.0000)" font-family="'Liberation Sans',sans-serif" font-size="87.14">+</text>
<text transform="translate(1461.80,1629.35) scale(1.0385,1.0000)" font-family="'Liberation Sans',sans-serif" font-size="77.04">—</text>
<text transform="translate(1650.90,1629.35) scale(1.0268,1.0000)" font-family="'Liberation Sans',sans-serif" font-size="77.04">—</text>
<text transform="translate(1839.50,1629.35) scale(1.0346,1.0000)" font-family="'Liberation Sans',sans-serif" font-size="77.04">—</text>
<text transform="translate(478.17,1753.70) scale(1.1137,1.0000)" font-family="'Liberation Sans',sans-serif" font-size="77.76">+</text>
<text transform="translate(672.41,1753.70) scale(1.1031,1.0000)" font-family="'Liberation Sans',sans-serif" font-size="77.76">+</text>
<text transform="translate(850.20,1753.05) scale(1.0255,1.0000)" font-family="'Liberation Sans',sans-serif" font-size="77.04">—</text>
<text transform="translate(1093.41,1753.70) scale(1.1031,1.0000)" font-family="'Liberation Sans',sans-serif" font-size="77.76">+</text>
<text transform="translate(1251.00,1752.85) scale(1.0398,1.0000)" font-family="'Liberation Sans',sans-serif" font-size="77.04">—</text>
<text transform="translate(1477.06,1753.81) scale(1.1044,1.0000)" font-family="'Liberation Sans',sans-serif" font-size="76.73">+</text>
<text transform="translate(1653.50,1752.85) scale(1.0333,1.0000)" font-family="'Liberation Sans',sans-serif" font-size="77.04">—</text>
<text transform="translate(1843.40,1752.85) scale(1.0177,1.0000)" font-family="'Liberation Sans',sans-serif" font-size="77.04">—</text>
<text transform="translate(475.53,1874.66) scale(1.1484,1.0000)" font-family="'Liberation Sans',sans-serif" font-size="76.12">+</text>
<text transform="translate(653.80,1874.45) scale(1.0112,1.0000)" font-family="'Liberation Sans',sans-serif" font-size="77.04">—</text>
<text transform="translate(877.80,1874.66) scale(1.1295,1.0000)" font-family="'Liberation Sans',sans-serif" font-size="76.12">+</text>
<text transform="translate(1090.47,1874.66) scale(1.1376,1.0000)" font-family="'Liberation Sans',sans-serif" font-size="76.12">+</text>
<text transform="translate(1267.90,1874.15) scale(1.0281,1.0000)" font-family="'Liberation Sans',sans-serif" font-size="77.04">—</text>
<text transform="translate(1475.60,1874.15) scale(1.0281,1.0000)" font-family="'Liberation Sans',sans-serif" font-size="77.04">—</text>
<text transform="translate(1663.06,1874.26) scale(1.1132,1.0000)" font-family="'Liberation Sans',sans-serif" font-size="76.12">+</text>
<text transform="translate(1840.40,1874.15) scale(1.0229,1.0000)" font-family="'Liberation Sans',sans-serif" font-size="77.04">—</text>
</svg>
</body></html>
